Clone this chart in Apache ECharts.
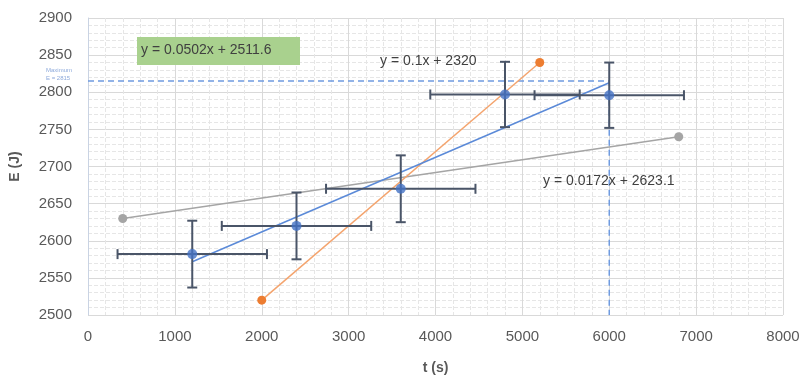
<!DOCTYPE html>
<html>
<head>
<meta charset="utf-8">
<script src="https://cdn.jsdelivr.net/npm/echarts@6/dist/echarts.min.js"></script>
<style>
  html, body { margin: 0; padding: 0; background: #fff; }
  #chart { width: 807px; height: 376px; }
</style>
</head>
<body>
<div id="chart"></div>
<script>
  // measured points with error bars
  var tVals = [1200, 2400, 3600, 4800, 6000];
  var eVals = [2582, 2620, 2670, 2797, 2796];
  var tErr = [860, 860, 860, 860, 860];
  var eErr = [45, 45, 45, 44, 44];

  // trend lines (end points)
  var fitLine = [[1200, 2571.8], [6000, 2812.8]];    // y = 0.0502x + 2511.6
  var steepLine = [[2000, 2520], [5200, 2840]];      // y = 0.1x + 2320
  var shallowLine = [[400, 2630], [6800, 2740]];     // y = 0.0172x + 2623.1

  // maximum E guide
  var maxGuide = [[0, 2815], [6000, 2815], [6000, 2500]];

  var xTicks = { min: 0, max: 8000, step: 1000 };
  var yTicks = { min: 2500, max: 2900, step: 50 };

  var font = 'Liberation Sans';
  var errData = tVals.map(function (t, i) { return [t, eVals[i], tErr[i], eErr[i]]; });
  var points = tVals.map(function (t, i) { return [t, eVals[i]]; });

  var chart = echarts.init(document.getElementById('chart'));

  chart.setOption({
    animation: false,
    grid: { left: 88, right: 24, top: 18, bottom: 61, outerBoundsMode: 'none', containLabel: false },
    xAxis: {
      type: 'value',
      min: xTicks.min, max: xTicks.max, interval: xTicks.step,
      name: 't (s)',
      nameLocation: 'middle',
      nameGap: 46,
      nameTextStyle: { fontFamily: font, fontSize: 14, fontWeight: 'bold', color: '#595959' },
      axisLine: { show: false },
      axisTick: { show: false },
      minorTick: { show: false, splitNumber: 5 },
      axisLabel: { fontFamily: font, fontSize: 15, color: '#595959', margin: 14, formatter: function (v) { return String(v); } },
      splitLine: { lineStyle: { color: '#d9d9d9', width: 1 } },
      minorSplitLine: { show: true, lineStyle: { color: '#e6e6e6', type: 'dashed', width: 1 } }
    },
    yAxis: {
      type: 'value',
      min: yTicks.min, max: yTicks.max, interval: yTicks.step,
      name: 'E (J)',
      nameLocation: 'middle',
      nameRotate: 90,
      nameGap: 66,
      nameTextStyle: { fontFamily: font, fontSize: 14, fontWeight: 'bold', color: '#595959' },
      axisLine: { show: true, lineStyle: { color: '#c9d3e3' } },
      axisTick: { show: false },
      minorTick: { show: false, splitNumber: 5 },
      axisLabel: { fontFamily: font, fontSize: 15, color: '#595959', margin: 16, formatter: function (v) { return String(v); } },
      splitLine: { lineStyle: { color: '#d9d9d9', width: 1 } },
      minorSplitLine: { show: true, lineStyle: { color: '#e6e6e6', type: 'dashed', width: 1 } }
    },
    series: [
      {
        type: 'line',
        data: maxGuide,
        symbol: 'none',
        lineStyle: { color: '#6f9be0', width: 1.5, type: [6, 4] },
        z: 2
      },
      {
        type: 'line',
        data: shallowLine,
        symbol: 'circle',
        symbolSize: 9,
        itemStyle: { color: '#a5a5a5' },
        lineStyle: { color: '#a5a5a5', width: 1.5 },
        z: 3
      },
      {
        type: 'line',
        data: steepLine,
        symbol: 'circle',
        symbolSize: 9,
        itemStyle: { color: '#ed7d31' },
        lineStyle: { color: '#f4a46e', width: 1.5 },
        z: 3
      },
      {
        type: 'line',
        data: fitLine,
        symbol: 'none',
        lineStyle: { color: '#5b8ad8', width: 1.5 },
        z: 3
      },
      {
        type: 'custom',
        data: errData,
        encode: { x: 0, y: 1 },
        z: 4,
        renderItem: function (params, api) {
          var x = api.value(0), y = api.value(1), ex = api.value(2), ey = api.value(3);
          var l = api.coord([x - ex, y]), r = api.coord([x + ex, y]);
          var t = api.coord([x, y + ey]), b = api.coord([x, y - ey]);
          var cap = 5;
          var st = { stroke: '#4a5568', lineWidth: 2 };
          function ln(x1, y1, x2, y2) {
            return { type: 'line', shape: { x1: x1, y1: y1, x2: x2, y2: y2 }, style: st };
          }
          return {
            type: 'group',
            children: [
              ln(l[0], l[1], r[0], r[1]),
              ln(l[0], l[1] - cap, l[0], l[1] + cap),
              ln(r[0], r[1] - cap, r[0], r[1] + cap),
              ln(t[0], t[1], b[0], b[1]),
              ln(t[0] - cap, t[1], t[0] + cap, t[1]),
              ln(b[0] - cap, b[1], b[0] + cap, b[1])
            ]
          };
        }
      },
      {
        type: 'scatter',
        data: points,
        symbol: 'circle',
        symbolSize: 10,
        itemStyle: { color: '#4472c4' },
        z: 5
      }
    ],
    graphic: [
      {
        type: 'rect',
        left: 137, top: 37,
        shape: { width: 163, height: 28 },
        style: { fill: '#a9d18e' },
        z: 10
      },
      {
        type: 'text',
        left: 141, top: 43,
        style: { text: 'y = 0.0502x + 2511.6', font: '14px "Liberation Sans"', fill: '#404040' },
        z: 11
      },
      {
        type: 'text',
        left: 380, top: 54,
        style: { text: 'y = 0.1x + 2320', font: '14px "Liberation Sans"', fill: '#404040' },
        z: 11
      },
      {
        type: 'text',
        left: 543, top: 174,
        style: { text: 'y = 0.0172x + 2623.1', font: '14px "Liberation Sans"', fill: '#404040' },
        z: 11
      },
      {
        type: 'text',
        left: 46, top: 66,
        style: { text: 'Maximum\nE = 2815', font: '6px "Liberation Sans"', fill: '#8eaadb', lineHeight: 8 },
        z: 11
      }
    ]
  });
</script>
</body>
</html>
